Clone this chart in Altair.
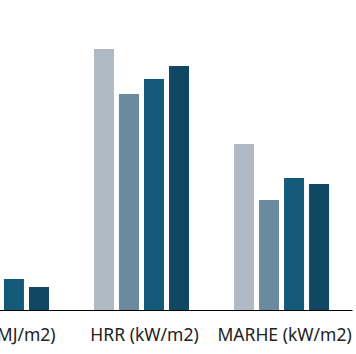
import altair as alt
import pandas as pd

categories = ["THR (MJ/m2)", "HRR (kW/m2)", "MARHE (kW/m2)"]
series = ["S1", "S2", "S3", "S4"]
values = {
    "THR (MJ/m2)": [40, 28, 31, 23],
    "HRR (kW/m2)": [261, 216, 231, 244],
    "MARHE (kW/m2)": [166, 110, 132, 126],
}
colors = ["#afbac5", "#6c8a9e", "#145a79", "#104864"]

rows = []
for c in categories:
    for s, v in zip(series, values[c]):
        rows.append({"category": c, "series": s, "value": v})
df = pd.DataFrame(rows)

chart = alt.Chart(df).mark_bar().encode(
    x=alt.X("category:N", sort=categories, title=None,
            scale=alt.Scale(paddingInner=0.2857, paddingOuter=0.146),
            axis=alt.Axis(labelAngle=0, ticks=False, labelFontSize=17.5,
                          labelFont="Noto Sans", labelColor="#222222",
                          labelPadding=16, labelOffset=3,
                          domainColor="#000000", domainWidth=1.2)),
    xOffset=alt.XOffset("series:N", sort=series,
                        scale=alt.Scale(paddingInner=0.2, paddingOuter=0.1)),
    y=alt.Y("value:Q", scale=alt.Scale(domain=[0, 310]), axis=None),
    color=alt.Color("series:N", sort=series,
                    scale=alt.Scale(domain=series, range=colors), legend=None),
).properties(
    width=421, height=310,
    autosize=alt.AutoSizeParams(type="none"),
    padding={"left": -69, "top": 0, "right": 4, "bottom": 44},
).configure_view(stroke=None)

chart.save("out.html", embed_options={"renderer": "svg", "actions": False})
